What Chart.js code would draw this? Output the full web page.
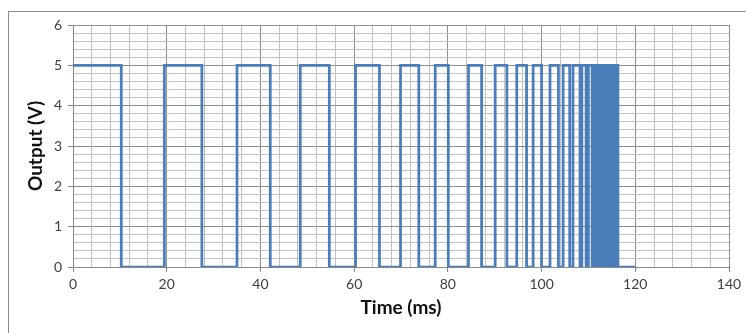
<!DOCTYPE html>
<html>
<head>
<meta charset="utf-8">
<script src="https://cdn.jsdelivr.net/npm/chart.js@4/dist/chart.umd.min.js"></script>
<style>
  html, body { margin: 0; padding: 0; background: #ffffff; }
  #wrap { position: relative; width: 746px; height: 333px; overflow: hidden; background: #fff; }
  #frame { position: absolute; left: 8px; top: 11px; width: 760px; height: 340px; border: 1.5px solid #8c8c8c; box-sizing: border-box; }
  canvas { position: absolute; left: 0; top: 0; }
</style>
</head>
<body>
<div id="wrap">
  <div id="frame"></div>
  <canvas id="c" width="746" height="333"></canvas>
</div>
<script>
// ---- data ----
const riseTimes = [0, 19.5, 35.0, 48.5, 60.3, 69.9, 77.3, 84.4, 90.1, 94.7, 98.2, 101.8, 104.6, 106.7,
                   108.6, 110.0, 111.3, 111.9, 112.5, 113.0, 113.5, 114.0, 114.4, 114.8, 115.2, 115.6, 116.0];
const fallTimes = [10.3, 27.5, 42.1, 54.7, 65.4, 73.8, 80.1, 87.2, 92.6, 96.8, 100.0, 103.6, 106.0, 108.2,
                   109.5, 110.8, 111.6, 112.2, 112.8, 113.3, 113.8, 114.2, 114.6, 115.0, 115.4, 115.8, 116.3];
const highLevel = 5;
const lowLevel = 0;
const endTime = 120;

const xMajorTicks = [0, 20, 40, 60, 80, 100, 120, 140];
const yMajorTicks = [0, 1, 2, 3, 4, 5, 6];
const xMinorPerMajor = 5;
const yMinorPerMajor = 5;

const xTitle = 'Time (ms)';
const yTitle = 'Output (V)';

// ---- build step series from edges ----
const points = [];
for (let i = 0; i < riseTimes.length; i++) {
  const r = riseTimes[i], f = fallTimes[i];
  if (i === 0) points.push({x: r, y: highLevel});
  else { points.push({x: r, y: lowLevel}); points.push({x: r, y: highLevel}); }
  points.push({x: f, y: highLevel});
  points.push({x: f, y: lowLevel});
}
points.push({x: endTime, y: lowLevel});

function withMinor(majors, n) {
  const out = [];
  for (let i = 0; i < majors.length - 1; i++) {
    const a = majors[i], b = majors[i + 1];
    for (let k = 0; k < n; k++) out.push(+(a + (b - a) * k / n).toFixed(6));
  }
  out.push(majors[majors.length - 1]);
  return out;
}
const xAllTicks = withMinor(xMajorTicks, xMinorPerMajor);
const yAllTicks = withMinor(yMajorTicks, yMinorPerMajor);
const isMajor = (v, arr) => arr.some(m => Math.abs(m - v) < 1e-6);

const CHART_LEFT = 73, CHART_RIGHT = 729, CHART_TOP = 25, CHART_BOTTOM = 267;

new Chart(document.getElementById('c'), {
  type: 'scatter',
  data: {
    datasets: [{
      data: points,
      showLine: true,
      borderColor: '#4a7ebb',
      backgroundColor: '#4a7ebb',
      borderWidth: 2.75,
      pointRadius: 0,
      tension: 0,
      fill: false
    }]
  },
  options: {
    responsive: false,
    animation: false,
    devicePixelRatio: 1,
    layout: { padding: { left: 0, top: CHART_TOP, right: 746 - CHART_RIGHT, bottom: 0 } },
    plugins: { legend: { display: false }, tooltip: { enabled: false } },
    scales: {
      x: {
        type: 'linear',
        min: xMajorTicks[0],
        max: xMajorTicks[xMajorTicks.length - 1],
        afterBuildTicks: s => { s.ticks = xAllTicks.map(v => ({value: v})); },
        afterFit: s => { s.height = 333 - CHART_BOTTOM; },
        border: { display: true, color: '#8a8a8a', width: 1 },
        grid: {
          drawTicks: true,
          tickLength: 5,
          lineWidth: 1,
          color: c => isMajor(c.tick.value, xMajorTicks) ? '#8f8f8f' : '#c2c2c2',
          tickColor: c => isMajor(c.tick.value, xMajorTicks) ? '#8a8a8a' : 'rgba(0,0,0,0)'
        },
        ticks: {
          autoSkip: false,
          maxRotation: 0,
          padding: 4,
          color: '#404040',
          font: { family: 'Lato', size: 14 },
          callback: v => isMajor(v, xMajorTicks) ? String(Math.round(v)) : ''
        },
        title: {
          display: true,
          text: xTitle,
          color: '#111111',
          font: { family: 'Lato', size: 19, weight: 'bold' },
          padding: { top: 0, bottom: 14 }
        }
      },
      y: {
        type: 'linear',
        min: yMajorTicks[0],
        max: yMajorTicks[yMajorTicks.length - 1],
        afterBuildTicks: s => { s.ticks = yAllTicks.map(v => ({value: v})); },
        afterFit: s => { s.width = CHART_LEFT; },
        border: { display: true, color: '#8a8a8a', width: 1 },
        grid: {
          drawTicks: true,
          tickLength: 5,
          lineWidth: 1,
          color: c => isMajor(c.tick.value, yMajorTicks) ? '#8f8f8f' : '#c2c2c2',
          tickColor: c => isMajor(c.tick.value, yMajorTicks) ? '#8a8a8a' : 'rgba(0,0,0,0)'
        },
        ticks: {
          autoSkip: false,
          padding: 6,
          color: '#404040',
          font: { family: 'Lato', size: 14 },
          callback: v => isMajor(v, yMajorTicks) ? String(Math.round(v)) : ''
        },
        title: {
          display: true,
          text: yTitle,
          color: '#111111',
          font: { family: 'Lato', size: 19, weight: 'bold' },
          padding: { top: 24, bottom: 0 }
        }
      }
    }
  }
});
</script>
</body>
</html>
